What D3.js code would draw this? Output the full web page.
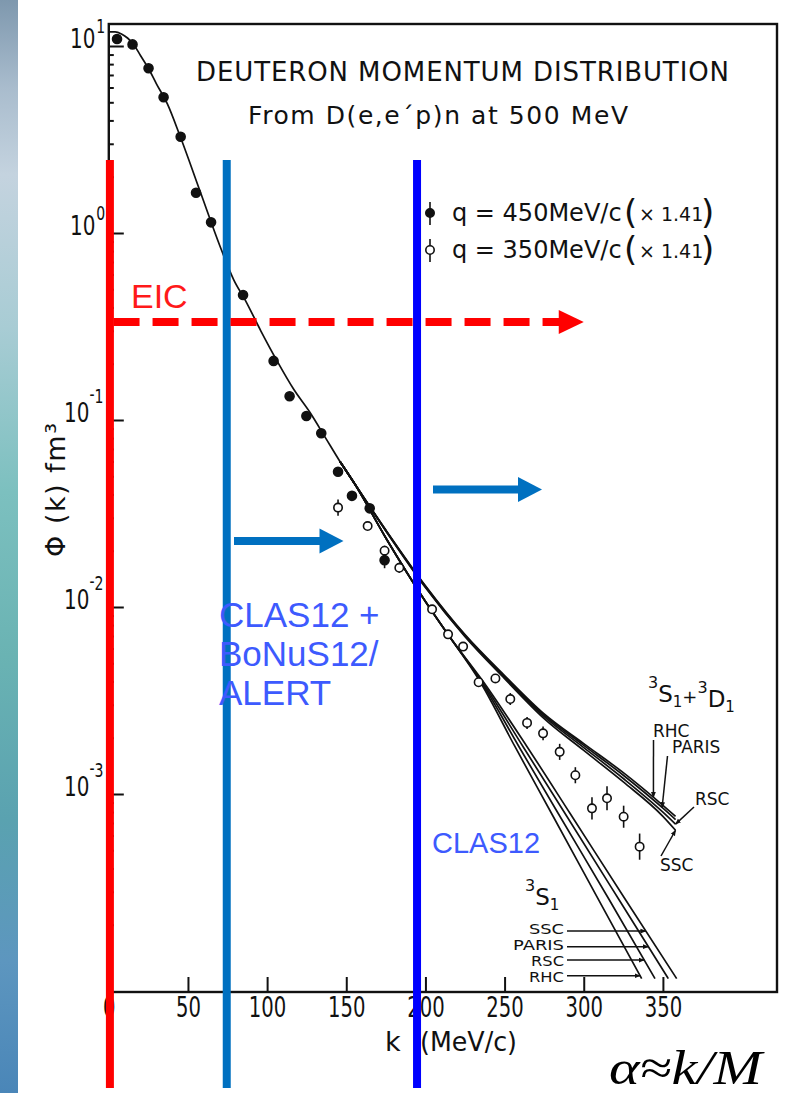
<!DOCTYPE html>
<html>
<head>
<meta charset="utf-8">
<script src="https://cdn.jsdelivr.net/npm/d3@7"></script>
<style>
  html, body { margin: 0; padding: 0; background: #fff; }
  svg { display: block; }
</style>
</head>
<body>
<svg id="chart" width="797" height="1093"></svg>
<script>
// ---------------------------------------------------------------
// Deuteron momentum distribution, D(e,e'p)n at 500 MeV
// ---------------------------------------------------------------

// Theory: low-momentum part common to all potentials (k in MeV/c, phi in fm^3)
const trunkK   = [0, 4, 8, 12, 16, 20, 25, 30, 37, 45, 58, 70, 79, 86, 96, 106, 117, 127, 137, 146, 155];
const trunkPhi = [11.9, 11.9, 11.6, 11.0, 10.1, 8.9, 7.6, 6.3, 4.9, 3.3, 1.64, 0.86, 0.56, 0.44, 0.30, 0.209, 0.145, 0.110, 0.080, 0.060, 0.046];

// Theory: 3S1 + 3D1 for each potential
const fullK     = [155, 175, 200, 225, 250, 275, 300, 325, 350, 358];
const fullRHC   = [0.046, 0.0258, 0.0130, 0.00712, 0.00430, 0.00268, 0.00186, 0.00130, 0.00087, 0.00076];
const fullPARIS = [0.046, 0.0257, 0.0129, 0.00706, 0.00425, 0.00264, 0.00182, 0.00126, 0.00084, 0.00073];
const fullRSC   = [0.046, 0.0256, 0.0128, 0.00700, 0.00420, 0.00259, 0.00177, 0.00121, 0.00080, 0.00069];
const fullSSC   = [0.046, 0.0255, 0.0127, 0.00694, 0.00414, 0.00253, 0.00171, 0.00116, 0.00076, 0.00064];

// Theory: 3S1 only; each potential listed as momenta reached at common levels
const sLevels = [0.046, 0.0234, 0.0107, 0.00708, 0.00407, 0.00179, 0.000789, 0.000271, 0.000103];
const sRHC    = [155, 175, 200, 214.5, 233.9, 256.6, 279.6, 309.5, 336.6];
const sRSC    = [155, 175, 200, 214.5, 234.5, 259.1, 283.8, 316.2, 345.0];
const sPARIS  = [155, 175, 200, 214.5, 235.1, 261.7, 288.1, 322.4, 353.4];
const sSSC    = [155, 175, 200, 214.5, 235.8, 264.2, 291.3, 326.5, 358.7];

// Measurements, q = 450 MeV/c (x 1.41); error = half bar in decades
const q450K   = [5.2, 15.0, 25.1, 34.6, 45.4, 55.1, 64.6, 84.8, 104.1, 114.2, 124.8, 134.2, 144.8, 153.6, 164.8, 174.2];
const q450Phi = [10.9, 10.2, 7.60, 5.32, 3.27, 1.64, 1.14, 0.466, 0.207, 0.134, 0.105, 0.0849, 0.0529, 0.0393, 0.0337, 0.0178];
const q450Err = [0, 0, 0, 0, 0, 0, 0, 0, 0, 0, 0, 0, 0, 0, 0, 0.043];

// Measurements, q = 350 MeV/c (x 1.41)
const q350K   = [144.8, 163.5, 174.2, 183.5, 204.2, 214.3, 223.8, 233.6, 244.2, 253.6, 264.2, 274.3, 284.8, 294.7, 305.2, 314.7, 325.2, 335.3];
const q350Phi = [0.034, 0.0271, 0.0200, 0.0162, 0.00972, 0.00714, 0.00614, 0.00396, 0.00415, 0.00322, 0.00240, 0.00211, 0.00168, 0.00126, 0.000838, 0.000948, 0.000756, 0.000523];
const q350Err = [0.043, 0.021, 0.027, 0.027, 0.021, 0.021, 0.021, 0.021, 0.021, 0.032, 0.032, 0.037, 0.043, 0.043, 0.059, 0.064, 0.059, 0.070];

// Axes
const xTickValues = [0, 50, 100, 150, 200, 250, 300, 350];
const yDecades    = [1, 0, -1, -2, -3];

// Labels of the 3S1-only curves and the levels of their pointer arrows
const sLabelNames  = ["SSC", "PARIS", "RSC", "RHC"];
const sLabelLevels = [1.85e-4, 1.525e-4, 1.294e-4, 1.068e-4];

// Momentum reach of the experiments (MeV/c) and EIC level
const reachK     = [0.7, 74.5, 194.7];
const eicLevel   = 0.334;
const eicReachK  = [3, 300];

// ---------------------------------------------------------------
const svg = d3.select("#chart");
const chartFont = "'DejaVu Sans', sans-serif";
const ink = "#111";

const x = d3.scaleLinear().domain([0, 350]).range([108.8, 662.9]);
const y = d3.scaleLog().domain([1e-3, 10]).range([794, 46]);
const frame = { left: x(0), right: 777, top: 24, bottom: 992 };

// slide background strip on the left
const defs = svg.append("defs");
const grad = defs.append("linearGradient").attr("id", "bgStrip")
  .attr("x1", 0).attr("y1", 0).attr("x2", 0).attr("y2", 1);
[[0, "#7e98ae"], [0.08, "#a9bccd"], [0.16, "#c4d3df"], [0.3, "#a8ccd4"],
 [0.45, "#7cc0bf"], [0.6, "#6ab3b3"], [0.75, "#5aa2b0"], [0.88, "#5d96bf"], [1, "#4a86b8"]]
  .forEach(([o, c]) => grad.append("stop").attr("offset", o).attr("stop-color", c));
svg.append("rect").attr("x", 0).attr("y", 0).attr("width", 797).attr("height", 1093).attr("fill", "#fff");
svg.append("rect").attr("x", 0).attr("y", 0).attr("width", 18).attr("height", 1093).attr("fill", "url(#bgStrip)");

// arrow markers
defs.append("marker").attr("id", "tip").attr("viewBox", "0 0 10 10")
  .attr("refX", 9).attr("refY", 5).attr("markerWidth", 6).attr("markerHeight", 6)
  .attr("markerUnits", "userSpaceOnUse").attr("orient", "auto")
  .append("path").attr("d", "M0,1 L10,5 L0,9 Z").attr("fill", ink);

// ---- frame and axes ----
svg.append("rect")
  .attr("x", frame.left).attr("y", frame.top)
  .attr("width", frame.right - frame.left).attr("height", frame.bottom - frame.top)
  .attr("fill", "none").attr("stroke", ink).attr("stroke-width", 2.4);

const gx = svg.append("g").attr("transform", `translate(0,${frame.bottom})`)
  .call(d3.axisBottom(x).tickValues(xTickValues).tickSizeInner(-15).tickSizeOuter(0)
        .tickPadding(5).tickFormat(d3.format("d")));
gx.select(".domain").remove();
gx.selectAll(".tick line").attr("stroke", ink).attr("stroke-width", 2);
gx.selectAll(".tick").filter(d => d === 0).select("line").remove();
gx.selectAll(".tick text")
  .attr("font-family", chartFont).attr("font-size", 28).attr("fill", ink)
  .attr("textLength", d => String(d).length * 12.5).attr("lengthAdjust", "spacingAndGlyphs");

const yMajor = yDecades.map(e => Math.pow(10, e));
const yMinor = [];
for (let e = -4; e <= 0; e++) for (let m = 2; m <= 9; m++) yMinor.push(m * Math.pow(10, e));

const gy = svg.append("g").attr("transform", `translate(${frame.left},0)`)
  .call(d3.axisLeft(y).tickValues(yMajor).tickSizeInner(-15).tickSizeOuter(0).tickFormat(""));
gy.select(".domain").remove();
gy.selectAll(".tick line").attr("stroke", ink).attr("stroke-width", 2);

const gyMinor = svg.append("g").attr("transform", `translate(${frame.left},0)`)
  .call(d3.axisLeft(y).tickValues(yMinor).tickSizeInner(-5).tickSizeOuter(0).tickFormat(""));
gyMinor.select(".domain").remove();
gyMinor.selectAll(".tick line").attr("stroke", ink).attr("stroke-width", 2);

// decade labels 10^n in narrow lettering
const yLab = svg.append("g").attr("font-family", chartFont).attr("fill", ink);
yDecades.forEach(e => {
  const ty = y(Math.pow(10, e));
  const t = yLab.append("text").attr("transform", `translate(${e < 0 ? 64 : 70},${ty + 2}) scale(0.74,1)`);
  t.append("tspan").attr("font-size", 27).text("10");
  if (e >= 0) {
    t.append("tspan").attr("font-size", 19).attr("dx", 1).attr("dy", -15).text(String(e));
  } else {
    t.append("tspan").attr("font-size", 19).attr("dy", -21).text("-");
    t.append("tspan").attr("font-size", 19).attr("dy", 2).text(String(-e));
  }
});

// axis titles
svg.append("text").attr("transform", "translate(65,490) rotate(-90)")
  .attr("text-anchor", "middle").attr("font-family", chartFont).attr("font-size", 27)
  .attr("fill", ink).attr("textLength", 134).attr("lengthAdjust", "spacing")
  .text("Φ (k) fm³");
svg.append("text").attr("x", 385).attr("y", 1051).attr("font-family", chartFont)
  .attr("font-size", 27).attr("fill", ink).text("k");
svg.append("text").attr("x", 420).attr("y", 1051).attr("font-family", chartFont)
  .attr("font-size", 27).attr("fill", ink).attr("textLength", 97).attr("lengthAdjust", "spacingAndGlyphs")
  .text("(MeV/c)");

// titles
svg.append("text").attr("x", 196).attr("y", 81).attr("font-family", chartFont)
  .attr("font-size", 26).attr("fill", ink).attr("textLength", 533).attr("lengthAdjust", "spacing")
  .text("DEUTERON MOMENTUM DISTRIBUTION");
svg.append("text").attr("x", 248).attr("y", 124).attr("font-family", chartFont)
  .attr("font-size", 25).attr("fill", ink).attr("textLength", 380).attr("lengthAdjust", "spacing")
  .text("From D(e,e´p)n at 500 MeV");

// ---- theory curves ----
const line = d3.line().x(d => x(d[0])).y(d => y(d[1])).curve(d3.curveMonotoneX);
const zip = (ks, ps) => ks.map((k, i) => [k, ps[i]]);
const curves = svg.append("g").attr("fill", "none").attr("stroke", ink).attr("stroke-width", 1.7);

curves.append("path").attr("d", line(zip(trunkK, trunkPhi)));
const lead = zip(trunkK, trunkPhi).slice(-2, -1);
[fullRHC, fullPARIS, fullRSC, fullSSC].forEach(p => {
  curves.append("path").attr("d", line(lead.concat(zip(fullK, p))));
});
[sRHC, sRSC, sPARIS, sSSC].forEach(ks => {
  curves.append("path").attr("d", line(lead.concat(zip(ks, sLevels))));
});

// ---- measurements ----
const pts = svg.append("g").attr("stroke", ink).attr("stroke-width", 1.6);
function errBar(g, k, phi, err) {
  if (err <= 0) return;
  const f = Math.pow(10, err);
  g.append("line").attr("x1", x(k)).attr("x2", x(k))
    .attr("y1", y(phi * f)).attr("y2", y(phi / f));
}
q450K.forEach((k, i) => {
  errBar(pts, k, q450Phi[i], q450Err[i]);
  pts.append("circle").attr("cx", x(k)).attr("cy", y(q450Phi[i])).attr("r", 4.5).attr("fill", ink);
});
q350K.forEach((k, i) => {
  errBar(pts, k, q350Phi[i], q350Err[i]);
  pts.append("circle").attr("cx", x(k)).attr("cy", y(q350Phi[i])).attr("r", 4.2).attr("fill", "#fff");
});

// legend
const leg = svg.append("g").attr("font-family", chartFont).attr("fill", ink);
[[213, true, "450"], [250, false, "350"]].forEach(([ly, filled, q]) => {
  leg.append("line").attr("x1", 430).attr("x2", 430).attr("y1", ly - 11).attr("y2", ly + 12)
    .attr("stroke", ink).attr("stroke-width", 1.6);
  leg.append("circle").attr("cx", 430).attr("cy", ly).attr("r", 4.2)
    .attr("fill", filled ? ink : "#fff").attr("stroke", ink).attr("stroke-width", 1.6);
  const t = leg.append("text").attr("y", ly + 8).attr("font-size", 24);
  t.append("tspan").attr("x", 452).text(`q = ${q}MeV/c`);
  t.append("tspan").attr("x", 624).attr("dy", 3).attr("font-size", 34).text("(");
  t.append("tspan").attr("x", 639).attr("dy", -3).attr("font-size", 19).text("× 1.41");
  t.append("tspan").attr("x", 701).attr("dy", 3).attr("font-size", 34).text(")");
});

// ---- curve labels ----
function logAt(ks, ps, k) {
  const i = Math.max(1, Math.min(ks.length - 1, d3.bisectLeft(ks, k)));
  const t = (k - ks[i - 1]) / (ks[i] - ks[i - 1]);
  return Math.pow(10, Math.log10(ps[i - 1]) + t * (Math.log10(ps[i]) - Math.log10(ps[i - 1])));
}
function kAt(ks, ps, phi) {
  const lp = Math.log10(phi);
  for (let i = 1; i < ks.length; i++) {
    const a = Math.log10(ps[i - 1]), b = Math.log10(ps[i]);
    if (lp <= a && lp >= b) return ks[i - 1] + (lp - a) / (b - a) * (ks[i] - ks[i - 1]);
  }
  return ks[ks.length - 1];
}
const lab = svg.append("g").attr("font-family", chartFont).attr("fill", ink);
const ptr = svg.append("g").attr("stroke", ink).attr("stroke-width", 1.5).attr("fill", "none");

// spectroscopic term label: 3S1 (+ 3D1)
function termLabel(x0, base, terms) {
  const t = lab.append("text").attr("x", x0).attr("y", base).attr("font-size", 22);
  terms.forEach((L, i) => {
    if (i > 0) t.append("tspan").attr("font-size", 18).attr("dy", -4).text("+");
    t.append("tspan").attr("font-size", 16).attr("dy", i > 0 ? -10 : -14).text("3");
    t.append("tspan").attr("font-size", 23).attr("dy", 14).text(L);
    t.append("tspan").attr("font-size", 15).attr("dy", 5).text("1");
  });
}
termLabel(648, 702, ["S", "D"]);

const fullLabels = [
  { name: "RHC",   tx: 653, ty: 737, sx: 653.5, sy: 740, k: 344, p: fullRHC },
  { name: "PARIS", tx: 672, ty: 753, sx: 667.5, sy: 756, k: 349.5, p: fullPARIS },
  { name: "RSC",   tx: 695, ty: 805, sx: 694,   sy: 807, k: 358, p: fullRSC },
  { name: "SSC",   tx: 660, ty: 871, sx: 661,   sy: 856, k: 358, p: fullSSC }
];
fullLabels.forEach(d => {
  lab.append("text").attr("x", d.tx).attr("y", d.ty).attr("font-size", 17).text(d.name);
  ptr.append("line").attr("x1", d.sx).attr("y1", d.sy)
    .attr("x2", x(d.k)).attr("y2", y(logAt(fullK, d.p, d.k)))
    .attr("marker-end", "url(#tip)");
});

// 3S1-only labels, stacked, each pointing at its curve
termLabel(525, 905, ["S"]);
const sByName = { SSC: sSSC, PARIS: sPARIS, RSC: sRSC, RHC: sRHC };
const sLabelWidth = { SSC: 35, PARIS: 51, RSC: 33, RHC: 35 };
sLabelNames.forEach((name, i) => {
  const lv = sLabelLevels[i];
  const ay = y(lv);
  lab.append("text").attr("x", 564).attr("y", 933.5 + i * 16.3).attr("text-anchor", "end")
    .attr("font-size", 13.8).attr("textLength", sLabelWidth[name]).attr("lengthAdjust", "spacingAndGlyphs")
    .text(name);
  ptr.append("line").attr("x1", 567).attr("y1", ay)
    .attr("x2", x(kAt(sByName[name], sLevels, lv))).attr("y2", ay)
    .attr("marker-end", "url(#tip)");
});

// ---- experiment reach overlay ----
const ov = svg.append("g");
const reachColors = ["#ff0000", "#0070c0", "#0000ff"];
reachK.forEach((k, i) => {
  ov.append("line").attr("x1", x(k)).attr("x2", x(k)).attr("y1", 160).attr("y2", 1088)
    .attr("stroke", reachColors[i]).attr("stroke-width", 8);
});

// EIC dashed arrow
const ey = y(eicLevel);
const eTip = x(eicReachK[1]);
ov.append("line").attr("x1", x(eicReachK[0])).attr("x2", eTip - 24).attr("y1", ey).attr("y2", ey)
  .attr("stroke", "#ff0000").attr("stroke-width", 8).attr("stroke-dasharray", "26,13");
ov.append("path").attr("d", `M${eTip - 25},${ey - 12} L${eTip},${ey} L${eTip - 25},${ey + 12} Z`)
  .attr("fill", "#ff0000");
ov.append("text").attr("x", 131).attr("y", 308).attr("font-family", "'Liberation Sans', Arial, sans-serif")
  .attr("font-size", 34).attr("fill", "#ff1a1a").text("EIC");

// blue arrows
function blockArrow(x0, x1, yy) {
  ov.append("line").attr("x1", x0).attr("x2", x1 - 23).attr("y1", yy).attr("y2", yy)
    .attr("stroke", "#0070c0").attr("stroke-width", 8);
  ov.append("path").attr("d", `M${x1 - 24},${yy - 12.5} L${x1},${yy} L${x1 - 24},${yy + 12.5} Z`)
    .attr("fill", "#0070c0");
}
blockArrow(234, 343.5, 541);
blockArrow(433, 542, 489.5);

// experiment labels
const exFont = "'Liberation Sans', Arial, sans-serif";
const exCol = "#3d5afe";
["CLAS12 +", "BoNuS12/", "ALERT"].forEach((t, i) => {
  ov.append("text").attr("x", 219).attr("y", 627 + i * 39).attr("font-family", exFont)
    .attr("font-size", 35).attr("fill", exCol).text(t);
});
ov.append("text").attr("x", 432).attr("y", 853).attr("font-family", exFont)
  .attr("font-size", 29).attr("fill", exCol).text("CLAS12");

// scaling variable
svg.append("text").attr("x", 609).attr("y", 1084)
  .attr("font-family", "'Liberation Serif', 'Times New Roman', serif").attr("font-style", "italic")
  .attr("font-size", 48).attr("fill", "#000").attr("textLength", 153).attr("lengthAdjust", "spacingAndGlyphs")
  .text("α≈k/M");
</script>
</body>
</html>
